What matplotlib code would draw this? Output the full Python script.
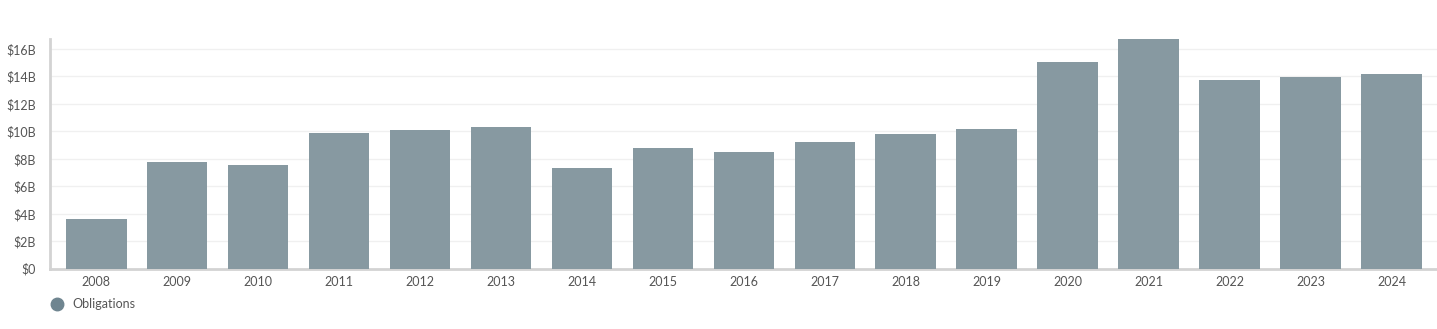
import matplotlib
matplotlib.use("Agg")
import matplotlib.pyplot as plt
from matplotlib.lines import Line2D

years = [str(y) for y in range(2008, 2025)]
obligations_b = [3.62, 7.76, 7.55, 9.85, 10.07, 10.32, 7.37, 8.79, 8.50, 9.26,
                 9.81, 10.14, 15.09, 16.73, 13.74, 13.93, 14.18]
yticks = [0, 2, 4, 6, 8, 10, 12, 14, 16]
ytick_labels = ["$0", "$2B", "$4B", "$6B", "$8B", "$10B", "$12B", "$14B", "$16B"]

plt.rcParams['font.family'] = ['Lato', 'DejaVu Sans']

fig = plt.figure(figsize=(14.37, 3.29), dpi=100)
ax = fig.add_axes([50/1437, 60.3/329, 1387/1437, 229.7/329])

x = list(range(len(years)))
ax.bar(x, obligations_b, width=0.75, color="#8799a1", zorder=3)

ax.set_xlim(-0.57, len(years) - 1 + 0.56)
ax.set_ylim(0, 16.73)
ax.set_yticks(yticks)
ax.set_yticklabels(ytick_labels)
ax.set_xticks(x)
ax.set_xticklabels(years)
ax.grid(axis='y', color="#f0f0f0", linewidth=1, zorder=0)
ax.set_axisbelow(True)

for s in ['top', 'right']:
    ax.spines[s].set_visible(False)
for s in ['left', 'bottom']:
    ax.spines[s].set_color("#d3d3d3")
    ax.spines[s].set_linewidth(2)

ax.tick_params(axis='both', length=0, labelsize=9, colors="#555555")
ax.tick_params(axis='y', pad=10)
ax.tick_params(axis='x', pad=5)

handle = Line2D([], [], marker='o', linestyle='none', markersize=9,
                markerfacecolor="#6f8590", markeredgecolor="#6f8590")
fig.legend([handle], ["Obligations"], loc='center left',
           bbox_to_anchor=(44/1437, 1 - 304/329), frameon=False,
           fontsize=9, labelcolor="#555555", handletextpad=0.3,
           borderaxespad=0, borderpad=0)

fig.savefig("out.png", dpi=100)
